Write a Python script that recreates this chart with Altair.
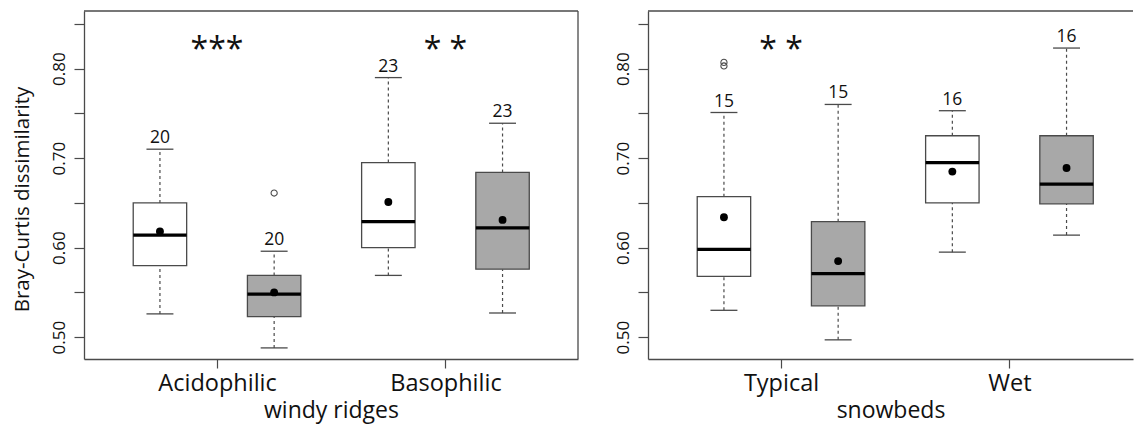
import altair as alt
import pandas as pd

# ---------------- data ----------------
box_pos = [1, 2, 3, 4]
box_type = ["white", "grey", "white", "grey"]

# windy ridges
wr_lo = [0.526, 0.488, 0.569, 0.527]
wr_q1 = [0.580, 0.523, 0.600, 0.576]
wr_med = [0.614, 0.548, 0.629, 0.622]
wr_q3 = [0.650, 0.569, 0.695, 0.684]
wr_hi = [0.710, 0.596, 0.790, 0.739]
wr_mean = [0.618, 0.550, 0.651, 0.631]
wr_n = [20, 20, 23, 23]
wr_out_pos = [2]
wr_out_val = [0.661]
wr_cats = ["Acidophilic", "Basophilic"]
wr_stars = ["***", "* *"]

# snowbeds
sb_lo = [0.530, 0.497, 0.595, 0.614]
sb_q1 = [0.568, 0.535, 0.650, 0.649]
sb_med = [0.598, 0.571, 0.695, 0.671]
sb_q3 = [0.657, 0.629, 0.725, 0.725]
sb_hi = [0.751, 0.760, 0.753, 0.823]
sb_mean = [0.634, 0.585, 0.685, 0.689]
sb_n = [15, 15, 16, 16]
sb_out_pos = [1, 1]
sb_out_val = [0.807, 0.803]
sb_cats = ["Typical", "Wet"]
sb_stars = ["* *", ""]

cat_pos = [1.5, 3.5]
y_ticks = [0.50, 0.55, 0.60, 0.65, 0.70, 0.75, 0.80, 0.85]

# ---------------- style ----------------
FONT = "Open Sans"
LINE = "#4a4a4a"
Y0, Y1 = 0.4756, 0.8644
X0 = 0.335
PX_PER_UNIT = 114.2
H = 348
HALF_BOX = 0.234
HALF_CAP = 0.118


def panel(lo, q1, med, q3, hi, mean, n, out_pos, out_val, cats, stars,
          xtitle, ytitle, width, right_border):
    df = pd.DataFrame({"pos": box_pos, "type": box_type, "lo": lo, "q1": q1,
                       "med": med, "q3": q3, "hi": hi, "mean": mean, "n": n})
    odf = pd.DataFrame({"pos": out_pos, "val": out_val})
    sdf = pd.DataFrame({"cpos": cat_pos, "star": stars})
    one = pd.DataFrame({"a": [0]})

    xmax = X0 + width / PX_PER_UNIT
    xs = alt.Scale(domain=[X0, xmax], nice=False, zero=False)
    ys = alt.Scale(domain=[Y0, Y1], nice=False, zero=False)
    label_expr = f"datum.value < 2.5 ? '{cats[0]}' : '{cats[1]}'"
    xaxis = alt.Axis(values=cat_pos, labelExpr=label_expr, title=xtitle,
                     grid=False, tickSize=9, tickColor=LINE, tickWidth=1.2,
                     domainColor=LINE, domainWidth=1.3,
                     labelFont=FONT, labelFontSize=23.5, labelColor="#111",
                     labelBaseline="alphabetic", labelPadding=22,
                     titleFont=FONT, titleFontSize=23, titleFontWeight="normal",
                     titleColor="#111", titleBaseline="alphabetic", titleY=58)
    yaxis_kw = dict(values=y_ticks,
                    labelExpr="(abs(datum.value*10 - round(datum.value*10)) < 0.001) ? format(datum.value, '.2f') : ''",
                    grid=False, tickSize=10, tickColor=LINE, tickWidth=1.2,
                    domainColor=LINE, domainWidth=1.3,
                    labelFont=FONT, labelFontSize=17, labelColor="#111",
                    labelAngle=270, labelAlign="center", labelBaseline="alphabetic",
                    labelPadding=10, labelOverlap=False)
    if ytitle:
        yaxis = alt.Axis(title=ytitle, titleFont=FONT, titleFontSize=20.5,
                         titleFontWeight="normal", titleColor="#111",
                         titleAngle=270, titleAlign="center",
                         titleBaseline="alphabetic", titleX=-55.5, titleY=188,
                         **yaxis_kw)
    else:
        yaxis = alt.Axis(title=None, **yaxis_kw)

    X = lambda f: alt.X(f, type="quantitative", scale=xs, axis=xaxis)
    Y = lambda f: alt.Y(f, type="quantitative", scale=ys, axis=yaxis)

    base = alt.Chart(df).transform_calculate(
        xl=f"datum.pos - {HALF_BOX}", xr=f"datum.pos + {HALF_BOX}",
        cl=f"datum.pos - {HALF_CAP}", cr=f"datum.pos + {HALF_CAP}")

    wlo = base.mark_rule(color=LINE, strokeWidth=1.2, strokeDash=[3, 3]).encode(
        x=X("pos"), y=Y("lo"), y2="q1")
    whi = base.mark_rule(color=LINE, strokeWidth=1.2, strokeDash=[3, 3]).encode(
        x=X("pos"), y=Y("q3"), y2="hi")
    clo = base.mark_rule(color=LINE, strokeWidth=1.3).encode(
        x=X("cl"), x2="cr", y=Y("lo"))
    chi = base.mark_rule(color=LINE, strokeWidth=1.3).encode(
        x=X("cl"), x2="cr", y=Y("hi"))
    box = base.mark_rect(stroke=LINE, strokeWidth=1.3).encode(
        x=X("xl"), x2="xr", y=Y("q1"), y2="q3",
        fill=alt.Fill("type:N", scale=alt.Scale(domain=["white", "grey"],
                                                range=["#ffffff", "#a8a8a8"]),
                      legend=None))
    medl = base.mark_rule(color="#000", strokeWidth=3.2).encode(
        x=X("xl"), x2="xr", y=Y("med"))
    meanp = base.mark_point(filled=True, color="#000", size=62, opacity=1,
                            shape="circle").encode(x=X("pos"), y=Y("mean"))
    outp = alt.Chart(odf).mark_point(filled=False, shape="circle", size=38,
                                     stroke=LINE, strokeWidth=1.1, opacity=1).encode(
        x=X("pos"), y=Y("val"))
    ntext = base.mark_text(font=FONT, fontSize=17.5, color="#111",
                           baseline="alphabetic", dy=-6).encode(
        x=X("pos"), y=Y("hi"), text="n:N")
    startext = alt.Chart(sdf).mark_text(font=FONT, fontSize=32, color="#111",
                                        baseline="alphabetic").encode(
        x=X("cpos"), y=alt.value(49), text="star:N")
    top = alt.Chart(one).mark_rule(color=LINE, strokeWidth=1.3).encode(
        x=alt.value(0), x2=alt.value(width), y=alt.value(0))
    layers = [wlo, whi, clo, chi, box, medl, meanp, outp, ntext, startext, top]
    if right_border:
        rb = alt.Chart(one).mark_rule(color=LINE, strokeWidth=1.3).encode(
            x=alt.value(width), y=alt.value(0), y2=alt.value(H))
        layers.append(rb)
    return alt.layer(*layers).properties(width=width, height=H)


left = panel(wr_lo, wr_q1, wr_med, wr_q3, wr_hi, wr_mean, wr_n, wr_out_pos,
             wr_out_val, wr_cats, wr_stars, "windy ridges",
             "Bray-Curtis dissimilarity", 494, True)
right = panel(sb_lo, sb_q1, sb_med, sb_q3, sb_hi, sb_mean, sb_n, sb_out_pos,
              sb_out_val, sb_cats, sb_stars, "snowbeds", None, 485, False)

chart = alt.hconcat(left, right, spacing=70, bounds="flush").properties(
    padding={"left": 12, "top": 10, "right": 0, "bottom": 12},
    background="white",
).configure_view(stroke=None)

chart.save("out.html", embed_options={"renderer": "svg", "actions": False})
